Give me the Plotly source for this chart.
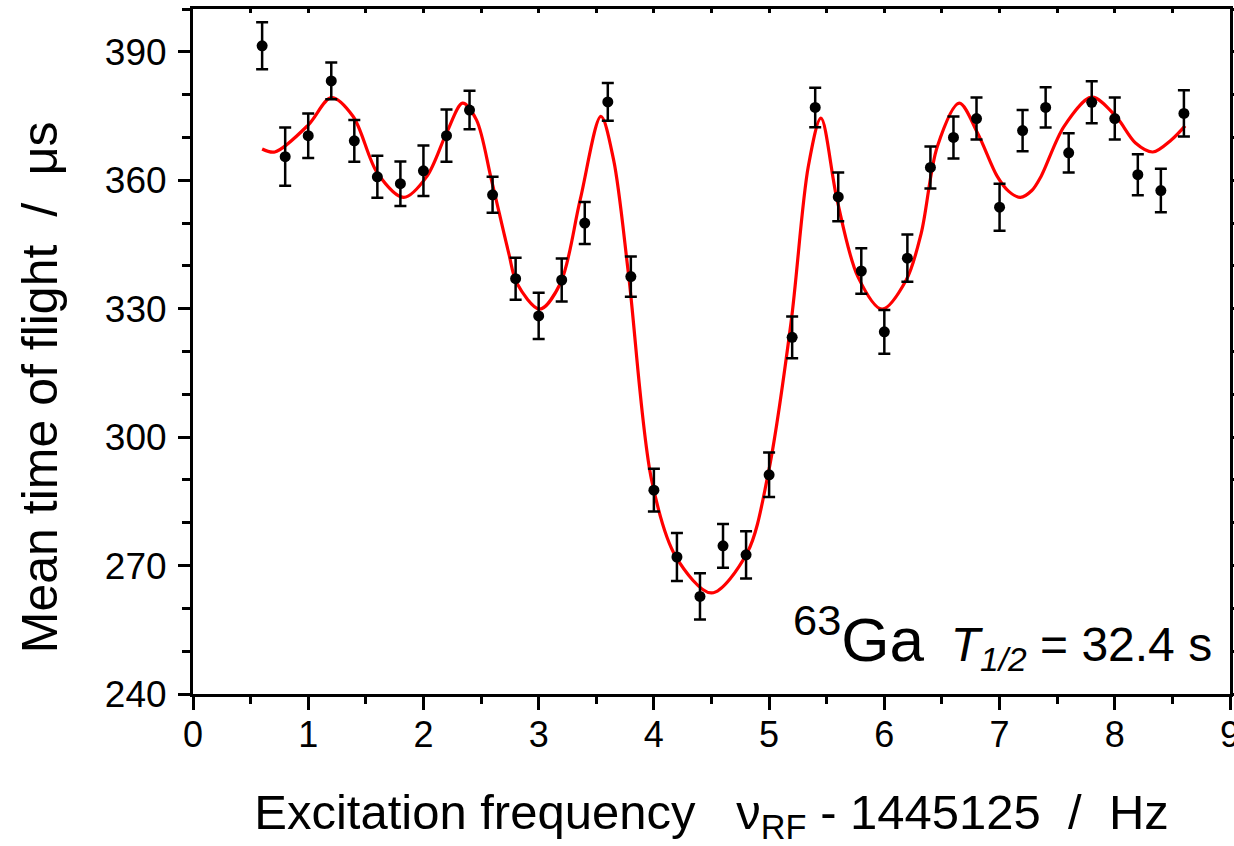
import plotly.graph_objects as go

# Measured time-of-flight resonance of 63Ga
freq = [0.6, 0.8, 1.0, 1.2, 1.4, 1.6, 1.8, 2.0, 2.2, 2.4, 2.6, 2.8, 3.0, 3.2, 3.4,
        3.6, 3.8, 4.0, 4.2, 4.4, 4.6, 4.8, 5.0, 5.2, 5.4, 5.6, 5.8, 6.0, 6.2, 6.4,
        6.6, 6.8, 7.0, 7.2, 7.4, 7.6, 7.8, 8.0, 8.2, 8.4, 8.6]
tof = [391.4, 365.5, 370.4, 383.2, 369.2, 360.8, 359.2, 362.2, 370.4, 376.4, 356.6,
       337.0, 328.3, 336.7, 350.0, 378.3, 337.5, 287.6, 272.0, 262.8, 274.6, 272.5,
       291.2, 323.3, 377.0, 356.1, 338.8, 324.6, 341.8, 363.0, 370.0, 374.4, 353.7,
       371.6, 377.0, 366.4, 378.2, 374.4, 361.3, 357.6, 375.6]
tof_err = [5.5, 6.8, 5.2, 4.3, 4.9, 4.9, 5.2, 5.9, 6.1, 4.5, 4.2, 4.9, 5.4, 5.0, 4.9,
           4.4, 4.7, 5.0, 5.6, 5.4, 5.1, 5.5, 5.2, 4.9, 4.6, 5.7, 5.3, 5.1, 5.5, 4.9,
           4.9, 4.9, 5.5, 4.8, 4.7, 4.6, 4.9, 4.9, 4.8, 5.1, 5.4]

# Fitted line shape, sampled along the curve
fit_freq = [0.60, 0.71, 1.00, 1.20, 1.39, 1.60, 1.83, 2.03, 2.20, 2.34, 2.46, 2.59,
            2.74, 2.81, 3.01, 3.19, 3.36, 3.54, 3.65, 3.78, 3.98, 4.19, 4.50, 4.81,
            4.99, 5.19, 5.34, 5.45, 5.59, 5.77, 5.98, 6.19, 6.32, 6.46, 6.65, 6.81,
            6.98, 7.08, 7.18, 7.28, 7.36, 7.56, 7.80, 8.01, 8.18, 8.33, 8.49, 8.61]
fit_tof = [367.3, 366.6, 372.9, 379.3, 374.9, 361.7, 356.0, 360.9, 371.0, 378.0, 374.1,
           360.1, 343.0, 336.0, 329.9, 336.0, 355.4, 374.9, 364.8, 338.0, 290.0, 272.1,
           263.6, 273.0, 291.2, 326.7, 363.2, 374.5, 355.4, 337.5, 329.9, 336.7, 347.6,
           367.9, 378.0, 371.0, 360.9, 357.4, 356.0, 357.6, 360.9, 372.6, 379.4, 374.9,
           368.7, 366.6, 369.4, 372.7]

FONT = "Liberation Sans, Arial, sans-serif"
NB = "\u00a0"

fig = go.Figure()

fig.add_trace(go.Scatter(
    x=fit_freq, y=fit_tof, mode="lines",
    line=dict(color="#ff0000", width=3.2, shape="spline", smoothing=0.9),
    hoverinfo="skip", showlegend=False,
))

fig.add_trace(go.Scatter(
    x=freq, y=tof, mode="markers",
    marker=dict(color="black", size=11),
    error_y=dict(type="data", array=tof_err, visible=True,
                 color="black", thickness=2.5, width=6),
    showlegend=False,
))

# empty trace so the mirrored top/right axes are drawn
fig.add_trace(go.Scatter(x=[], y=[], xaxis="x2", yaxis="y2", showlegend=False))

axis_line = dict(showline=True, linecolor="black", linewidth=3, showgrid=False,
                 zeroline=False, automargin=False)

fig.update_layout(
    width=1234, height=846,
    margin=dict(l=193, r=4, t=9, b=152, autoexpand=False),
    paper_bgcolor="white", plot_bgcolor="white",
    font=dict(family=FONT, color="black"),
    xaxis=dict(
        range=[0, 9], dtick=1, tick0=0, ticks="outside", ticklen=13, tickwidth=2.5,
        tickcolor="black", tickfont=dict(size=36), ticklabelstandoff=-6,
        ticklabeloverflow="allow",
        minor=dict(dtick=0.5, ticks="outside", ticklen=7, tickwidth=2.5,
                   tickcolor="black"),
        title=dict(text="Excitation frequency" + NB * 3 + "\u03bd<sub>RF</sub>" + NB
                   + "-" + NB + "1445125" + NB * 2 + "/" + NB * 2 + "Hz",
                   font=dict(size=49), standoff=44),
        **axis_line,
    ),
    yaxis=dict(
        range=[240, 400], dtick=30, tick0=240, ticks="outside", ticklen=12,
        tickwidth=2.5, tickcolor="black", tickfont=dict(size=37),
        ticklabelstandoff=4,
        minor=dict(dtick=10, ticks="outside", ticklen=8, tickwidth=2.5,
                   tickcolor="black"),
        **axis_line,
    ),
    xaxis2=dict(
        overlaying="x", side="top", anchor="y", range=[0, 9], dtick=0.5,
        ticks="inside", ticklen=4, tickwidth=2.5, tickcolor="black",
        showticklabels=False, **axis_line,
    ),
    yaxis2=dict(
        overlaying="y", side="right", anchor="x", range=[240, 400], dtick=10,
        tick0=240, ticks="outside", ticklen=4, tickwidth=2.5, tickcolor="black",
        showticklabels=False, **axis_line,
    ),
    annotations=[
        dict(
            xref="paper", yref="paper", x=0.985, y=0.02, xanchor="right",
            yanchor="bottom", showarrow=False,
            text="<span style='font-size:62px'><sup style='font-size:36px'>63</sup>Ga</span>"
                 + NB * 2 + "<i>T</i><sub><i>1/2</i></sub>" + NB + "=" + NB + "32.4" + NB + "s",
            font=dict(size=48, family=FONT, color="black"),
        ),
        dict(
            xref="paper", yref="paper", x=-0.1475, y=0.448, xanchor="center",
            yanchor="middle", textangle=-90, showarrow=False,
            text="Mean time of flight" + NB * 2 + "/" + NB * 2 + "\u03bcs",
            font=dict(size=50, family=FONT, color="black"),
        ),
    ],
)

fig.write_html("out.html")
